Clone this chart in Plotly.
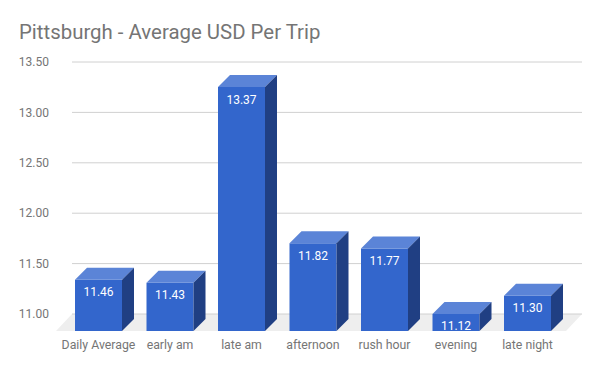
import plotly.graph_objects as go

categories = ["Daily Average", "early am", "late am", "afternoon", "rush hour", "evening", "late night"]
values = [11.46, 11.43, 13.37, 11.82, 11.77, 11.12, 11.30]
tick_values = [11.0, 11.5, 12.0, 12.5, 13.0, 13.5]

# geometry (pixel-derived constants)
px_x = 71.5          # pixels per category
px_y = 100.8         # pixels per unit value
x_lo = (56 - 98.5) / px_x
x_hi = (582 - 98.5) / px_x
y_lo = 11.0 - 17 / px_y
y_hi = 13.5 + 7 / px_y
bw = 47 / px_x
dx = 12 / px_x
dy = 12 / px_y
fdx = 16 / px_x

FRONT = "#3366cc"
TOP = "#5b84d7"
SIDE = "#203f83"
GRID = "#d0d0d0"
TXT = "#757575"

fig = go.Figure()

# floor
fig.add_trace(go.Scatter(
    x=[x_lo, x_hi - fdx, x_hi, x_lo + fdx, x_lo],
    y=[y_lo, y_lo, 11.0, 11.0, y_lo],
    fill="toself", fillcolor="#eeeeee", line=dict(width=0),
    mode="lines", hoverinfo="skip", showlegend=False))

# gridlines on back plane
for tv in tick_values:
    fig.add_trace(go.Scatter(
        x=[x_lo + fdx, x_hi], y=[tv, tv], mode="lines",
        line=dict(color=GRID, width=1), hoverinfo="skip", showlegend=False))

idx = list(range(len(categories)))

for i, v in enumerate(values):
    l = i - bw / 2
    r = i + bw / 2
    ft = v - dy
    # front face
    fig.add_trace(go.Scatter(
        x=[l, r, r, l, l], y=[y_lo, y_lo, ft, ft, y_lo],
        fill="toself", fillcolor=FRONT, line=dict(width=0), mode="lines",
        hoverinfo="skip", showlegend=False))
    # top face
    fig.add_trace(go.Scatter(
        x=[l, r, r + dx, l + dx, l], y=[ft, ft, v, v, ft],
        fill="toself", fillcolor=TOP, line=dict(width=0), mode="lines",
        hoverinfo="skip", showlegend=False))
    # side face
    fig.add_trace(go.Scatter(
        x=[r, r + dx, r + dx, r, r], y=[y_lo, y_lo + dy, v, ft, y_lo],
        fill="toself", fillcolor=SIDE, line=dict(width=0), mode="lines",
        hoverinfo="skip", showlegend=False))

# value labels
fig.add_trace(go.Scatter(
    x=idx, y=[v - dy - 13.5 / px_y for v in values],
    text=[f"{v:.2f}" for v in values], mode="text",
    textfont=dict(color="white", size=12, family="Roboto"),
    hoverinfo="skip", showlegend=False))

fig.update_layout(
    width=600, height=371,
    margin=dict(l=56, r=18, t=55, b=40),
    paper_bgcolor="white", plot_bgcolor="white",
    font=dict(family="Roboto", color=TXT, size=12),
    title=dict(text="Pittsburgh - Average USD Per Trip", x=19 / 600, xref="container",
               xanchor="left", y=1 - 32 / 371, yanchor="middle",
               font=dict(size=20.4, color=TXT, family="Roboto")),
    xaxis=dict(range=[x_lo, x_hi], tickvals=idx, ticktext=categories,
               showgrid=False, zeroline=False, showline=False, ticks="",
               ticklabelstandoff=5, tickfont=dict(size=12.3, color=TXT)),
    yaxis=dict(range=[y_lo, y_hi], tickvals=tick_values,
               ticktext=[f"{t:.2f}" for t in tick_values],
               showgrid=False, zeroline=False, showline=False, ticks="",
               ticklabelstandoff=6, tickfont=dict(size=12, color=TXT)),
)

fig.write_html("out.html")
